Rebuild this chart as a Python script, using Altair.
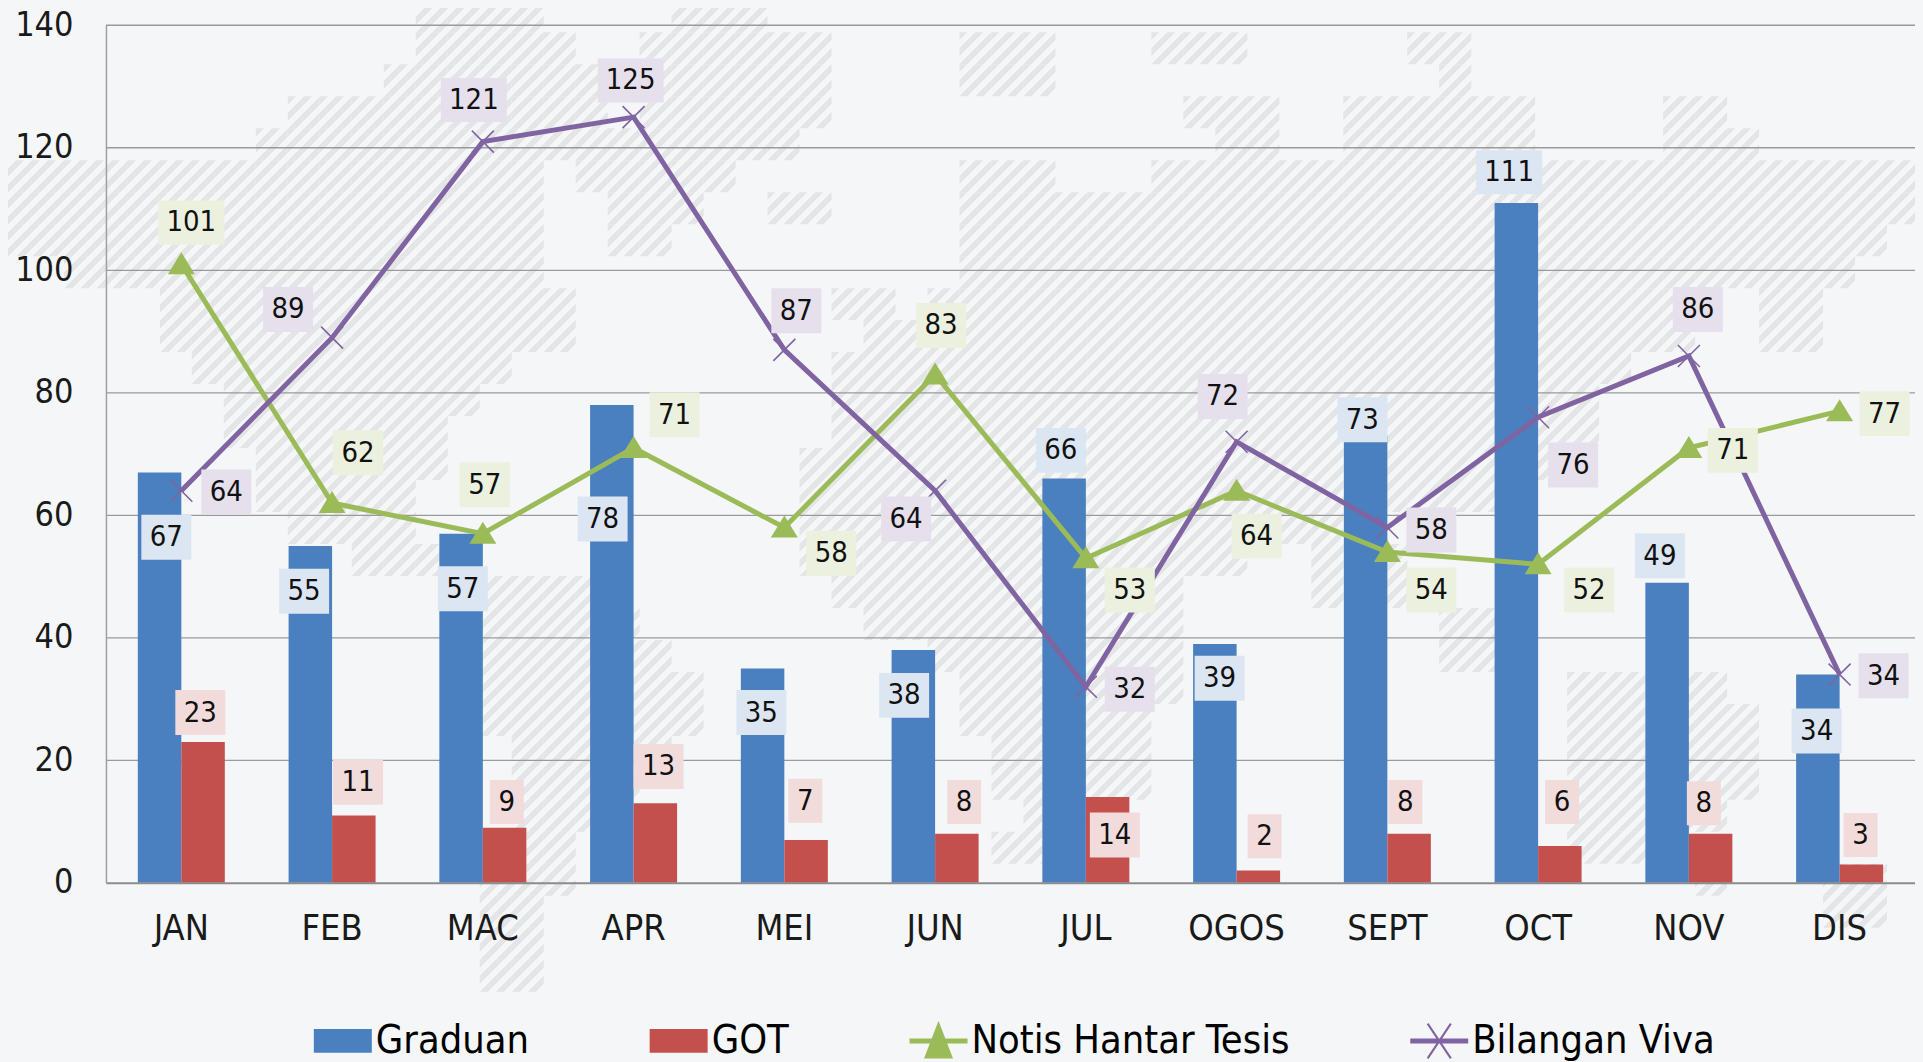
import altair as alt
import pandas as pd

MONTHS = ["JAN", "FEB", "MAC", "APR", "MEI", "JUN", "JUL", "OGOS", "SEPT", "OCT", "NOV", "DIS"]
SERIES = ["Graduan", "GOT", "Notis Hantar Tesis", "Bilangan Viva"]
COLORS = ["#4a80bf", "#c4504d", "#9bbb59", "#8064a2"]
CHIPS = ["#dce6f2", "#f2dcdb", "#ebf1de", "#e6e0ec"]

GRADUAN = [67, 55, 57, 78, 35, 38, 66, 39, 73, 111, 49, 34]
GOT = [23, 11, 9, 13, 7, 8, 14, 2, 8, 6, 8, 3]
NOTIS = [101, 62, 57, 71, 58, 83, 53, 64, 54, 52, 71, 77]
VIVA = [64, 89, 121, 125, 87, 64, 32, 72, 58, 76, 86, 34]

# label placement: height on the value axis, sideways shift from the month centre
LABEL_Y = [
    [56.4, 47.6, 48, 59.4, 27.8, 30.6, 70.6, 33.4, 75.6, 116, 53.4, 24.8],
    [27.8, 16.4, 13.2, 19, 13.4, 13.2, 7.8, 7.6, 13.2, 13.2, 13, 7.8],
    [107.8, 70.2, 65, 76.4, 53.8, 91, 47.8, 56.6, 47.8, 47.8, 70.6, 76.6],
    [63.8, 93.6, 127.8, 131, 93.4, 59.4, 31.6, 79.4, 57.6, 68.2, 93.6, 33.8],
]
LABEL_DX = [
    [-15, -28, -20, -31, -23, -31, -25, -17, -25, -29, -29, -23],
    [19, 26, 24, 25, 21, 29, 29, 28, 18, 24, 15, 21],
    [10, 26, 2, 41, 47, 6, 44, 20, 44, 51, 44, 45],
    [45, -44, -9, -3, 12, -29, 44, -14, 44, 35, 9, 44],
]

# world map backdrop: hatched spans per 32-unit row (start cell, end cell)
MAP_SPANS = {
    0: [(13, 17), (21, 24)],
    1: [(13, 18), (20, 26), (30, 33), (36, 39), (44, 46)],
    2: [(12, 19), (20, 26), (30, 33), (45, 46)],
    3: [(9, 19), (20, 26), (37, 40), (42, 48), (52, 54)],
    4: [(8, 20), (20, 25), (38, 40), (42, 48), (52, 55)],
    5: [(0, 17), (18, 23), (30, 33), (36, 60)],
    6: [(0, 17), (19, 22), (24, 26), (30, 60)],
    7: [(0, 17), (19, 21), (30, 59)],
    8: [(2, 17), (30, 58)],
    9: [(5, 18), (26, 28), (29, 53), (55, 57)],
    10: [(5, 18), (27, 53), (55, 57)],
    11: [(6, 16), (26, 51)],
    12: [(7, 15), (26, 50)],
    13: [(7, 14), (26, 50)],
    14: [(8, 14), (25, 49)],
    15: [(8, 13), (25, 48)],
    16: [(9, 13), (25, 42)],
    17: [(11, 14), (25, 39), (41, 44)],
    18: [(15, 19), (26, 37), (41, 44)],
    19: [(15, 20), (27, 37), (45, 47)],
    20: [(15, 21), (29, 37), (45, 47)],
    21: [(15, 22), (30, 37), (49, 54)],
    22: [(15, 22), (30, 36), (49, 55)],
    23: [(16, 21), (31, 36), (49, 55)],
    24: [(16, 20), (31, 36), (49, 55)],
    25: [(16, 19), (32, 35), (49, 54)],
    26: [(16, 18), (31, 33), (49, 52)],
    27: [(15, 18), (53, 54), (57, 59)],
    28: [(15, 17), (57, 59)],
    29: [(15, 17)],
    30: [(15, 17)],
}
CELL = 32
Y_TICKS = [0, 20, 40, 60, 80, 100, 120, 140]
GRID_LINES = [20, 40, 60, 80, 100, 120, 140]

FONT = "DejaVu Sans Condensed"
W, H = 1810, 858
LEFT, TOP = 106, 25
HALF_STEP = W / len(MONTHS) / 2

VALUES = [GRADUAN, GOT, NOTIS, VIVA]
long_rows = []
for s, name in enumerate(SERIES):
    for m, month in enumerate(MONTHS):
        v = VALUES[s][m]
        long_rows.append(dict(month=month, series=name, value=v, ly=LABEL_Y[s][m],
                              dx=LABEL_DX[s][m] + HALF_STEP, text=str(v), chip=CHIPS[s],
                              barcolor=COLORS[s], digits=len(str(v))))
df = pd.DataFrame(long_rows)
CHIP_PATH = {1: "M-17,-22H17V22H-17Z", 2: "M-25,-22.5H25V22.5H-25Z", 3: "M-33,-22H33V22H-33Z"}
df["chipshape"] = df["digits"].map(CHIP_PATH)

cells = []
for r, spans in MAP_SPANS.items():
    for a, b in spans:
        for c in range(a, b):
            cells.append(dict(x=c * CELL, x2=(c + 1) * CELL, y=r * CELL, y2=(r + 1) * CELL))
cells = pd.DataFrame(cells)

HATCH = "#e4e5e6"
CLEAR = "rgba(228,229,230,0)"
stops = []
for i in range(4):
    o = i / 4
    stops += [alt.GradientStop(offset=o, color=HATCH), alt.GradientStop(offset=o + 0.125, color=HATCH),
              alt.GradientStop(offset=o + 0.125, color=CLEAR), alt.GradientStop(offset=o + 0.25, color=CLEAR)]
hatch = alt.LinearGradient(gradient="linear", stops=stops, x1=0, y1=0, x2=1, y2=1)

backdrop = alt.Chart(cells).mark_rect(fill=hatch, strokeWidth=0).encode(
    x=alt.X("x:Q", axis=None, scale=alt.Scale(domain=[LEFT, LEFT + W], nice=False, zero=False)),
    x2="x2:Q",
    y=alt.Y("y:Q", axis=None, scale=alt.Scale(domain=[TOP + H, TOP], nice=False, zero=False)),
    y2="y2:Q",
)

x_enc = alt.X("month:N", sort=MONTHS, title=None,
              scale=alt.Scale(domain=MONTHS, paddingInner=0, paddingOuter=0),
              axis=alt.Axis(labelAngle=0, labelFont=FONT, labelFontSize=36, labelColor="#1a1a1a",
                            labelPadding=29, ticks=False, domainColor="#8c8c8c", domainWidth=2, zindex=1))
y_axis = alt.Axis(values=Y_TICKS, grid=False, ticks=False, labelFont=FONT, labelFontSize=34, title=None,
                  labelColor="#1a1a1a", labelPadding=33, domainColor="#a0a0a0", domainWidth=1.5, zindex=1)
y_enc = alt.Y("value:Q", title=None, scale=alt.Scale(domain=[0, 140], nice=False), axis=y_axis)

grid = alt.Chart(pd.DataFrame({"value": GRID_LINES})).mark_rule(color="#9a9a9a", strokeWidth=1.3).encode(y=y_enc)

bars = alt.Chart(df[df.series.isin(SERIES[:2])]).mark_bar(cornerRadius=0).encode(
    x=x_enc, y=y_enc,
    xOffset=alt.XOffset("series:N", sort=SERIES[:2],
                        scale=alt.Scale(domain=SERIES[:2], paddingOuter=0.733, paddingInner=0)),
    fill=alt.Fill("barcolor:N", scale=None),
)

notis_df = df[df.series == SERIES[2]]
viva_df = df[df.series == SERIES[3]]
line_n = alt.Chart(notis_df).mark_line(strokeWidth=5, color=COLORS[2]).encode(x=x_enc, y=y_enc)
pts_n = alt.Chart(notis_df).mark_point(shape="M0,-12L13.5,10H-13.5Z", size=4, filled=True, opacity=1,
                                       strokeWidth=0, color=COLORS[2]).encode(x=x_enc, y=y_enc)
line_v = alt.Chart(viva_df).mark_line(strokeWidth=5, color=COLORS[3]).encode(x=x_enc, y=y_enc)
pts_v = alt.Chart(viva_df).mark_point(shape="M-11,-11L11,11M-11,11L11,-11", size=4, filled=False, opacity=1,
                                      strokeWidth=1.6, color=COLORS[3]).encode(x=x_enc, y=y_enc)

ly_enc = alt.Y("ly:Q", title=None, scale=alt.Scale(domain=[0, 140], nice=False), axis=y_axis)
chips = alt.Chart(df).mark_point(filled=True, size=4, opacity=1, strokeWidth=0).encode(
    x=x_enc, y=ly_enc,
    xOffset=alt.XOffset("dx:Q", scale=None),
    fill=alt.Fill("chip:N", scale=None),
    shape=alt.Shape("chipshape:N", scale=None),
)
labels = alt.Chart(df).mark_text(font=FONT, fontSize=29, color="#111111", baseline="middle", align="center").encode(
    x=x_enc, y=ly_enc,
    xOffset=alt.XOffset("dx:Q", scale=None),
    text="text:N",
)

LEGEND_SYMBOLS = [
    "M-1,-.41H1V.41H-1Z",
    "M-1,-.41H1V.41H-1Z",
    "M-1,-.09H1V.09H-1Z M0,-.7L.5,.6H-.5Z",
    "M-1,-.09H1V.09H-1Z M-.43,-.58L-.37,-.62L.43,.58L.37,.62Z M.37,-.62L.43,-.58L-.37,.62L-.43,.58Z",
]
legend_cfg = alt.Legend(orient="none", legendX=208, legendY=987, direction="horizontal",
                        columns=4, title=None, labelFont=FONT, labelFontSize=39.5, labelColor="#000000",
                        labelOffset=4, symbolSize=3364, symbolStrokeWidth=0, symbolOpacity=1,
                        columnPadding=120, labelLimit=600)
carrier = alt.Chart(pd.DataFrame({"series": SERIES, "month": MONTHS[:4], "value": [0, 0, 0, 0]})).mark_point(
    filled=True, opacity=0).encode(
    x=x_enc, y=y_enc,
    color=alt.Color("series:N", scale=alt.Scale(domain=SERIES, range=COLORS), sort=SERIES, legend=legend_cfg),
    shape=alt.Shape("series:N", sort=SERIES, scale=alt.Scale(domain=SERIES, range=LEGEND_SYMBOLS), legend=legend_cfg),
)

front = alt.layer(grid, bars, line_n, line_v, pts_n, pts_v, chips, labels, carrier)
chart = alt.layer(backdrop, front).resolve_scale(x="independent", y="independent").properties(
    width=W, height=H,
    background="#f4f6f8",
    padding={"left": 98, "top": 17, "right": 0, "bottom": 179},
    autosize=alt.AutoSizeParams(type="none"),
).configure_view(stroke=None)

chart.save("out.html", embed_options={"renderer": "svg", "actions": False,
                                      "defaultStyle": "body{background:#f4f6f8;overflow:hidden}"})
